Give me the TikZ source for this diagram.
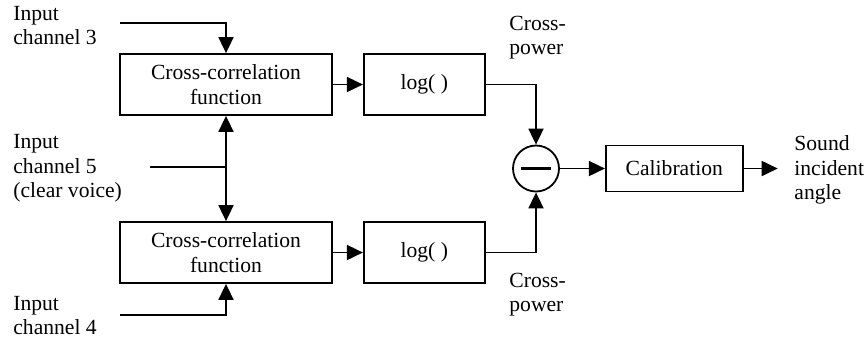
\documentclass[tikz,border=0pt]{standalone}
\usepackage{fontspec}
\setmainfont{Liberation Serif}
\usepackage{tikz}
\usetikzlibrary{arrows.meta,positioning,shapes.geometric}
\tikzset{
  block/.style={draw,line width=0.9pt,minimum width=106pt,minimum height=30.5pt,align=center,inner sep=0pt},
  logbox/.style={block,minimum width=60.5pt},
  calbox/.style={block,minimum width=68.5pt,minimum height=23pt},
  arrow/.style={-{Triangle[length=8pt,width=7.5pt]},line width=0.9pt},
  wire/.style={line width=0.9pt},
  sidetext/.style={align=left,inner sep=0pt,anchor=west}
}
\begin{document}
\begin{tikzpicture}[
  x=0.5pt,y=-0.5pt,
  font=\fontsize{10.8}{12.3}\selectfont,
  subtract/.style={circle,draw,line width=0.9pt,minimum size=23pt,inner sep=0pt}
]
  \useasboundingbox (0,0) rectangle (867,345);

  \node[block] (ccfa) at (226,84.5) {Cross-correlation\\function};
  \node[logbox,right=15pt of ccfa] (loga) {log( )};
  \node[block] (ccfb) at (226,252.5) {Cross-correlation\\function};
  \node[logbox,right=15pt of ccfb] (logb) {log( )};
  \node[subtract] (minus) at (536,168.5) {};
  \node[calbox,right=22.5pt of minus] (calib) {Calibration};
  \draw[line width=1.8pt] ([xshift=-7.5pt]minus.center) -- ([xshift=7.5pt]minus.center);

  % Inputs
  \coordinate (in3) at (120,23);
  \coordinate (in5) at (150,167);
  \coordinate (split) at (226,167);
  \coordinate (in4) at (120,315);
  \coordinate[right=17pt of calib] (out);

  \draw[arrow] (in3) -| (ccfa.north);
  \draw[wire] (in5) -- (split);
  \draw[arrow] (split) -- (ccfa.south);
  \draw[arrow] (split) -- (ccfb.north);
  \draw[arrow] (in4) -| (ccfb.south);

  \draw[arrow] (ccfa) -- (loga);
  \draw[arrow] (ccfb) -- (logb);
  \draw[arrow] (loga.east) -| (minus.north);
  \draw[arrow] (logb.east) -| (minus.south);
  \draw[arrow] (minus) -- (calib);
  \draw[arrow] (calib) -- (out);

  % Labels
  \node[sidetext] (t3) at (13,25.5) {Input\\channel 3};
  \node[sidetext] (t5) at (13,168.5) {Input\\channel 5\\(clear voice)};
  \node[sidetext] (t4) at (13,315.5) {Input\\channel 4};
  \node[sidetext] (pwa) at (509,37.5) {Cross-\\power};
  \node[sidetext] (pwb) at (509,294.5) {Cross-\\power};
  \node[sidetext] (angle) at (794,170) {Sound\\incident\\angle};
\end{tikzpicture}
\end{document}
